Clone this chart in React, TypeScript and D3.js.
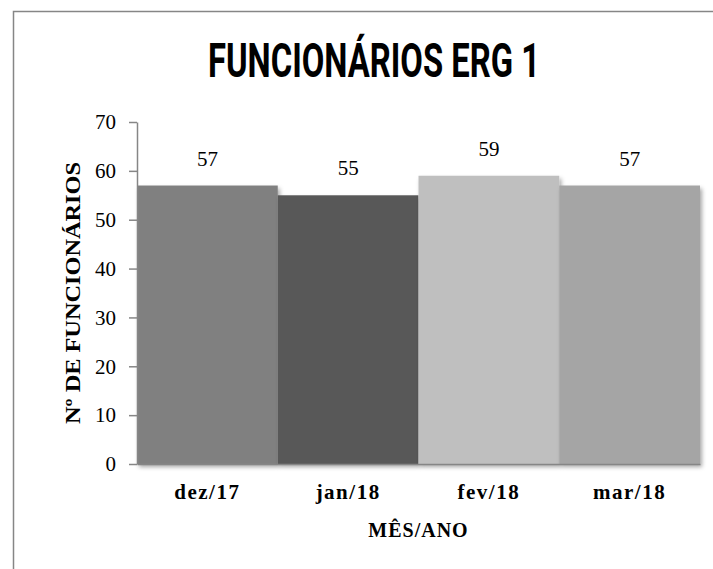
import React, { useEffect, useRef } from 'react';
import * as d3 from 'd3';

const MONTHS = ['dez/17', 'jan/18', 'fev/18', 'mar/18'];
const EMPLOYEES = [57, 55, 59, 57];
const BAR_COLORS = ['#808080', '#595959', '#bfbfbf', '#a5a5a5'];
const Y_TICKS = [0, 10, 20, 30, 40, 50, 60, 70];

const SERIF = "'Liberation Serif', 'DejaVu Serif', serif";

const App: React.FC = () => {
  const svgRef = useRef<SVGSVGElement>(null);

  useEffect(() => {
    if (!svgRef.current) return;
    const width = 713;
    const height = 569;
    const margin = { top: 122, right: 13, bottom: 105, left: 137 };

    const svg = d3.select(svgRef.current)
      .attr('width', width)
      .attr('height', height);
    svg.selectAll('*').remove();

    const defs = svg.append('defs');
    const shadow = defs.append('filter')
      .attr('id', 'bar-shadow')
      .attr('x', '-10%').attr('y', '-10%')
      .attr('width', '130%').attr('height', '130%');
    shadow.append('feDropShadow')
      .attr('dx', 2).attr('dy', 3)
      .attr('stdDeviation', 2)
      .attr('flood-color', '#000')
      .attr('flood-opacity', 0.35);

    // outer chart border (runs off the right and bottom edges)
    svg.append('rect')
      .attr('x', 13.5).attr('y', 11.5)
      .attr('width', 760).attr('height', 620)
      .attr('fill', '#fff')
      .attr('stroke', '#868686')
      .attr('stroke-width', 1.5);

    // title
    svg.append('text')
      .attr('x', 374)
      .attr('y', 77)
      .attr('text-anchor', 'middle')
      .attr('font-family', "Roboto, 'DejaVu Sans', sans-serif")
      .attr('font-weight', 'bold')
      .attr('font-size', 48)
      .attr('textLength', 332)
      .attr('lengthAdjust', 'spacingAndGlyphs')
      .attr('fill', '#000')
      .text('FUNCIONÁRIOS ERG 1');

    const x = d3.scaleBand<string>()
      .domain(MONTHS)
      .range([margin.left, width - margin.right])
      .paddingInner(0)
      .paddingOuter(0);

    const y = d3.scaleLinear()
      .domain([0, 70])
      .range([height - margin.bottom, margin.top]);

    const g = svg.append('g');

    // bars
    g.selectAll('rect.bar')
      .data(EMPLOYEES)
      .enter()
      .append('rect')
      .attr('class', 'bar')
      .attr('x', (_, i) => x(MONTHS[i]) as number)
      .attr('y', d => y(d))
      .attr('width', x.bandwidth())
      .attr('height', d => y(0) - y(d))
      .attr('fill', (_, i) => BAR_COLORS[i])
      .attr('filter', 'url(#bar-shadow)');

    // value labels
    g.selectAll('text.value')
      .data(EMPLOYEES)
      .enter()
      .append('text')
      .attr('class', 'value')
      .attr('x', (_, i) => (x(MONTHS[i]) as number) + x.bandwidth() / 2)
      .attr('y', d => y(d) - 20)
      .attr('text-anchor', 'middle')
      .attr('font-family', SERIF)
      .attr('font-size', 21)
      .attr('fill', '#000')
      .text(d => d);

    // y axis
    const yAxis = d3.axisLeft(y)
      .tickValues(Y_TICKS)
      .tickSize(8)
      .tickPadding(13)
      .tickSizeOuter(0);
    const yAxisGroup = g.append('g')
      .attr('transform', `translate(${margin.left},0)`)
      .call(yAxis);
    yAxisGroup.select('.domain').attr('stroke', '#868686').attr('stroke-width', 1.5);
    yAxisGroup.selectAll('line').attr('stroke', '#868686').attr('stroke-width', 1.5);
    yAxisGroup.selectAll('text')
      .attr('fill', '#000')
      .attr('font-family', SERIF)
      .attr('font-size', 21);

    // x axis
    const xAxis = d3.axisBottom(x).tickSize(0).tickPadding(20).tickSizeOuter(0);
    const xAxisGroup = g.append('g')
      .attr('transform', `translate(0,${y(0)})`)
      .call(xAxis);
    xAxisGroup.select('.domain').attr('stroke', '#868686').attr('stroke-width', 1.5);
    xAxisGroup.selectAll('text')
      .attr('fill', '#000')
      .attr('font-family', SERIF)
      .attr('font-weight', 'bold')
      .attr('font-size', 21)
      .attr('letter-spacing', 1.5);

    // axis titles
    svg.append('text')
      .attr('x', (margin.left + width - margin.right) / 2)
      .attr('y', 537)
      .attr('text-anchor', 'middle')
      .attr('font-family', SERIF)
      .attr('font-weight', 'bold')
      .attr('font-size', 20)
      .attr('letter-spacing', 1)
      .text('MÊS/ANO');

    svg.append('text')
      .attr('transform', `translate(80,${(y(0) + y(70)) / 2}) rotate(-90)`)
      .attr('text-anchor', 'middle')
      .attr('font-family', SERIF)
      .attr('font-weight', 'bold')
      .attr('font-size', 21)
      .attr('textLength', 262)
      .attr('lengthAdjust', 'spacingAndGlyphs')
      .text('Nº DE FUNCIONÁRIOS');
  }, []);

  return (
    <div style={{ position: 'fixed', left: 0, top: 0, width: 713, height: 569, overflow: 'hidden', background: '#fff' }}>
      <svg ref={svgRef} style={{ display: 'block' }}></svg>
    </div>
  );
};

export default App;
